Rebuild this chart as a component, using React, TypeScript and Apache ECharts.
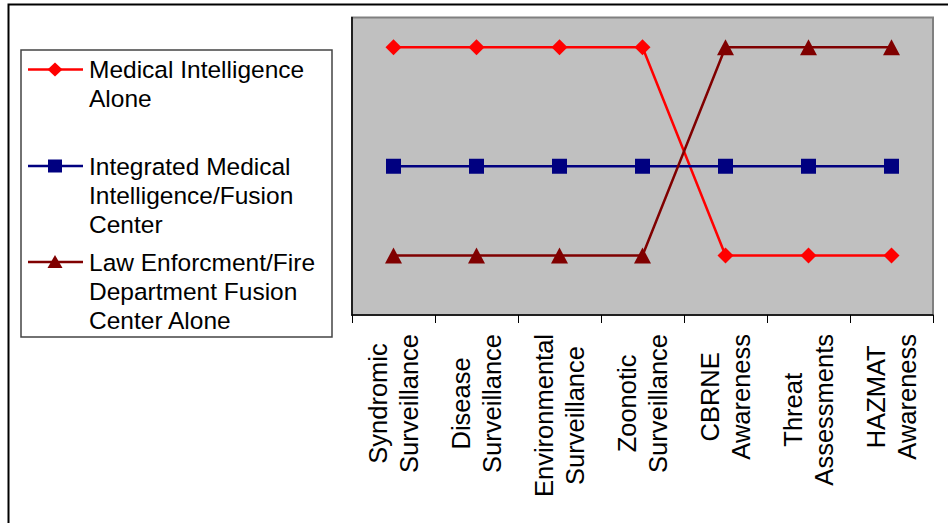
import React, { useEffect, useRef } from "react";
import * as echarts from "echarts";

const categories = [
  "Syndromic\nSurveillance",
  "Disease\nSurveillance",
  "Environmental\nSurveillance",
  "Zoonotic\nSurveillance",
  "CBRNE\nAwareness",
  "Threat\nAssessments",
  "HAZMAT\nAwareness",
];

const seriesNames = [
  "Medical Intelligence\nAlone",
  "Integrated Medical\nIntelligence/Fusion\nCenter",
  "Law Enforcment/Fire\nDepartment Fusion\nCenter Alone",
];

const medicalAlone = [4.5, 4.5, 4.5, 4.5, 1, 1, 1];
const integrated = [2.5, 2.5, 2.5, 2.5, 2.5, 2.5, 2.5];
const lawEnforcement = [1, 1, 1, 1, 4.5, 4.5, 4.5];

const FONT = "'Liberation Sans', Arial, sans-serif";

export default function App() {
  const ref = useRef<HTMLDivElement>(null);
  useEffect(() => {
    if (!ref.current) return;
    const chart = echarts.init(ref.current, undefined, { renderer: "svg" });
    const colors = ["#FF0000", "#000080", "#800000"];
    const legendY = [69.5, 166, 262];
    const legendGraphics: any[] = [
      {
        type: "rect",
        shape: { x: 21, y: 50, width: 311, height: 287 },
        style: { fill: "#fff", stroke: "#444", lineWidth: 1.5 },
      },
    ];
    seriesNames.forEach((name, i) => {
      const cy = legendY[i];
      legendGraphics.push({
        type: "line",
        shape: { x1: 28, y1: cy, x2: 83, y2: cy },
        style: { stroke: colors[i], lineWidth: 2.5 },
      });
      if (i === 0) {
        legendGraphics.push({
          type: "polygon",
          shape: { points: [[55, cy - 7], [62.5, cy], [55, cy + 7], [47.5, cy]] },
          style: { fill: colors[i] },
        });
      } else if (i === 1) {
        legendGraphics.push({
          type: "rect",
          shape: { x: 48, y: cy - 6.5, width: 14, height: 13 },
          style: { fill: colors[i] },
        });
      } else {
        legendGraphics.push({
          type: "polygon",
          shape: { points: [[55, cy - 7], [62.5, cy + 6], [47.5, cy + 6]] },
          style: { fill: colors[i] },
        });
      }
      legendGraphics.push({
        type: "text",
        x: 89,
        y: cy - 14.5,
        style: {
          text: name,
          font: `24.5px ${FONT}`,
          fill: "#000",
          lineHeight: 29,
          verticalAlign: "top",
          align: "left",
        },
      });
    });

    const option: any = {
      animation: false,
      backgroundColor: "#fff",
      grid: {
        left: 352,
        top: 17.5,
        right: 15,
        bottom: 208,
        show: true,
        backgroundColor: "#C0C0C0",
        borderColor: "#808080",
        borderWidth: 2,
      },
      xAxis: {
        type: "category",
        data: categories,
        boundaryGap: true,
        axisLine: { show: true, lineStyle: { color: "#000", width: 1.5 } },
        axisTick: {
          show: true,
          alignWithLabel: false,
          length: 8,
          lineStyle: { color: "#000", width: 1 },
        },
        axisLabel: {
          rotate: 90,
          margin: 19,
          interval: 0,
          formatter: (v: string) =>
            v
              .split("\n")
              .map((s) => `{c|${s}}`)
              .join("\n"),
          rich: {
            c: {
              align: "center",
              fontSize: 25.5,
              lineHeight: 31,
              fontFamily: FONT,
              color: "#000",
            },
          },
        },
        splitLine: { show: false },
      },
      yAxis: {
        type: "value",
        min: 0,
        max: 5,
        axisLine: { show: true, lineStyle: { color: "#000", width: 1.5 } },
        axisTick: { show: false },
        axisLabel: { show: false },
        splitLine: { show: false },
      },
      series: [
        {
          name: seriesNames[0],
          type: "line",
          data: medicalAlone,
          symbol: "diamond",
          symbolSize: [16, 16],
          itemStyle: { color: colors[0] },
          lineStyle: { color: colors[0], width: 2.5 },
        },
        {
          name: seriesNames[1],
          type: "line",
          data: integrated,
          symbol: "rect",
          symbolSize: [15, 15],
          itemStyle: { color: colors[1] },
          lineStyle: { color: colors[1], width: 2.5 },
        },
        {
          name: seriesNames[2],
          type: "line",
          data: lawEnforcement,
          symbol: "triangle",
          symbolSize: [17, 16],
          itemStyle: { color: colors[2] },
          lineStyle: { color: colors[2], width: 2.5 },
        },
      ],
      graphic: [
        {
          type: "polyline",
          shape: { points: [[8.5, 530], [8.5, 4.5], [960, 4.5]] },
          style: { stroke: "#000", lineWidth: 2, fill: "none" },
        },
        ...legendGraphics,
      ],
    };
    chart.setOption(option);
    return () => chart.dispose();
  }, []);
  return (
    <div
      ref={ref}
      style={{ position: "absolute", left: 0, top: 0, width: 948, height: 523, background: "#fff" }}
    />
  );
}
